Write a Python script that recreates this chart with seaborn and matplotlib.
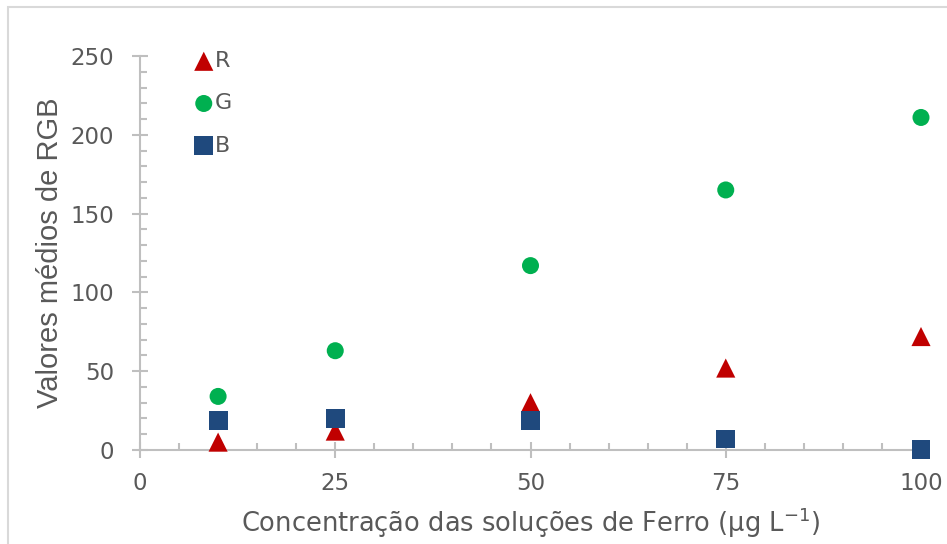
import matplotlib
matplotlib.use('Agg')
from matplotlib import pyplot as plt
from matplotlib.patches import Rectangle
from matplotlib.ticker import MultipleLocator
import pandas as pd
import seaborn as sns

conc = [10, 25, 50, 75, 100]
r_vals = [5, 12, 30, 52, 72]
g_vals = [34, 63, 117, 165, 211]
b_vals = [19, 20, 19, 7, 0.5]

canais = ['R', 'G', 'B']
cores = {'R': '#C00000', 'G': '#00B050', 'B': '#1F497D'}
marcadores = {'R': '^', 'G': 'o', 'B': 's'}
tamanhos = {'R': 190, 'G': 150, 'B': 185}

df = pd.DataFrame({
    'conc': conc * 3,
    'valor': r_vals + g_vals + b_vals,
    'canal': ['R'] * 5 + ['G'] * 5 + ['B'] * 5,
})

sns.set_style('white')
plt.rcParams['font.family'] = ['DejaVu Sans']
cinza = '#595959'
eixo = '#BFBFBF'

fig = plt.figure(figsize=(9.47, 5.44), dpi=100)
ax = fig.add_axes([140 / 947, 1 - 450 / 544, 781 / 947, 394 / 544])

for c in canais:
    sns.scatterplot(data=df[df['canal'] == c], x='conc', y='valor',
                    marker=marcadores[c], color=cores[c], s=tamanhos[c],
                    edgecolor='none', label=c, ax=ax, clip_on=False, zorder=3)

ax.set_xlim(0, 100)
ax.set_ylim(0, 250)
ax.xaxis.set_major_locator(MultipleLocator(25))
ax.xaxis.set_minor_locator(MultipleLocator(5))
ax.yaxis.set_major_locator(MultipleLocator(50))
ax.yaxis.set_minor_locator(MultipleLocator(10))

for s in ['top', 'right']:
    ax.spines[s].set_visible(False)
for s in ['left', 'bottom']:
    ax.spines[s].set_color(eixo)
    ax.spines[s].set_linewidth(1.5)

ax.tick_params(which='major', direction='inout', length=11, width=1.5,
               color=eixo, labelsize=16.5, labelcolor=cinza)
ax.tick_params(which='minor', direction='in', length=5, width=1.5, color=eixo)
ax.tick_params(axis='x', which='major', pad=10)
ax.tick_params(axis='y', which='major', pad=13)
ax.tick_params(which='both', bottom=True, left=True)

ax.set_xlabel('Concentração das soluções de Ferro (µg L$^{-1}$)',
              fontsize=18.5, color=cinza, labelpad=8)
ax.set_ylabel('Valores médios de RGB', fontsize=21, color=cinza,
              family=['Liberation Sans', 'DejaVu Sans'], labelpad=5)

leg = ax.legend(loc='upper left', bbox_to_anchor=(0.0475, 1.035), frameon=False,
                fontsize=16, labelspacing=1.0, handletextpad=-0.3,
                borderaxespad=0, handlelength=1.6)
for t in leg.get_texts():
    t.set_color(cinza)

fig.patches.append(Rectangle((8 / 947, -0.1), 1.1, 1 - 7 / 544 + 0.1,
                             transform=fig.transFigure, fill=False,
                             edgecolor='#D9D9D9', linewidth=1.5))

fig.savefig('out.png', dpi=100)
